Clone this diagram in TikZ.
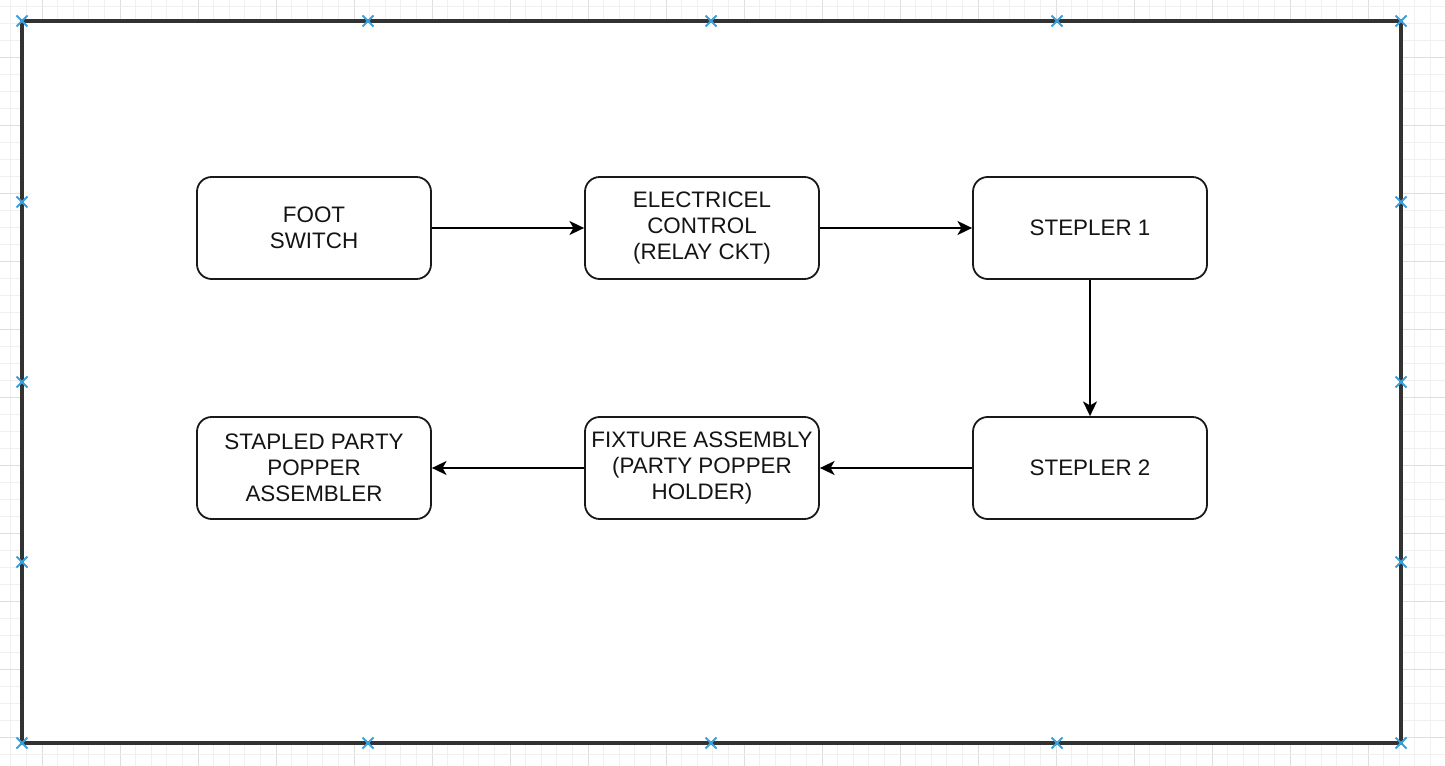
\documentclass[tikz,border=0pt]{standalone}
\usepackage{fontspec}
\setmainfont{Liberation Sans}
\usetikzlibrary{arrows.meta}
\definecolor{markblue}{RGB}{58,160,220}
\definecolor{framegray}{RGB}{50,50,50}
\definecolor{textgray}{RGB}{20,20,20}
\tikzset{
  blockbox/.style={draw=black!90, line width=1.35pt, rounded corners=11pt, fill=white,
    minimum width=175.5pt, minimum height=76.5pt, align=center, inner sep=0pt,
    text=textgray, font=\fontsize{16.8pt}{19.5pt}\selectfont},
  flowarrow/.style={draw=black, line width=1.35pt, -{Stealth[length=11pt,width=10.5pt,inset=3pt]}},
  mk/.style={draw=markblue, line width=1.4pt},
}
\newcommand{\xmark}[2]{\draw[mk] (#1-5.5,#2-5.5) -- (#1+5.5,#2+5.5) (#1-5.5,#2+5.5) -- (#1+5.5,#2-5.5);}
\begin{document}
\begin{tikzpicture}[x=0.75pt,y=-0.75pt]
\useasboundingbox (0,0) rectangle (1445,766);
\fill[white] (0,0) rectangle (1445,766);
% faint background grid
\foreach \i in {0,...,95} {
  \pgfmathsetmacro{\xx}{-36+\i*15.6}
  \draw[black!6, line width=0.5pt] (\xx,0) -- (\xx,766);
}
\foreach \i in {0,...,19} {
  \pgfmathsetmacro{\xx}{-36+\i*78}
  \draw[black!13, line width=0.6pt] (\xx,0) -- (\xx,766);
}
\foreach \i in {0,...,47} {
  \pgfmathsetmacro{\yy}{-11+\i*17}
  \draw[black!6, line width=0.5pt] (0,\yy) -- (1445,\yy);
}
\foreach \i in {0,...,12} {
  \pgfmathsetmacro{\yy}{-11+\i*68}
  \draw[black!13, line width=0.6pt] (0,\yy) -- (1445,\yy);
}
% frame
\fill[white] (22,21) rectangle (1401,743);
\draw[framegray, line width=2.4pt] (22,21) rectangle (1401,743);
% markers
\foreach \x in {22,368,711,1057,1401} { \xmark{\x}{21} \xmark{\x}{743} }
\foreach \y in {202,382,562} { \xmark{22}{\y} \xmark{1401}{\y} }
% nodes
\node[blockbox] (foot) at (314,228) {FOOT\\SWITCH};
\node[blockbox] (elec) at (702,228) {ELECTRICEL\\CONTROL\\(RELAY CKT)};
\node[blockbox] (s1) at (1090,228) {STEPLER 1};
\node[blockbox] (s2) at (1090,468) {STEPLER 2};
\node[blockbox] (fix) at (702,468) {FIXTURE ASSEMBLY\\(PARTY POPPER\\HOLDER)};
\node[blockbox] (stap) at (314,468) {STAPLED PARTY\\POPPER\\ASSEMBLER};
% connectors
\draw[flowarrow] (foot) -- (elec);
\draw[flowarrow] (elec) -- (s1);
\draw[flowarrow] (s1) -- (s2);
\draw[flowarrow] (s2) -- (fix);
\draw[flowarrow] (fix) -- (stap);
\end{tikzpicture}
\end{document}
